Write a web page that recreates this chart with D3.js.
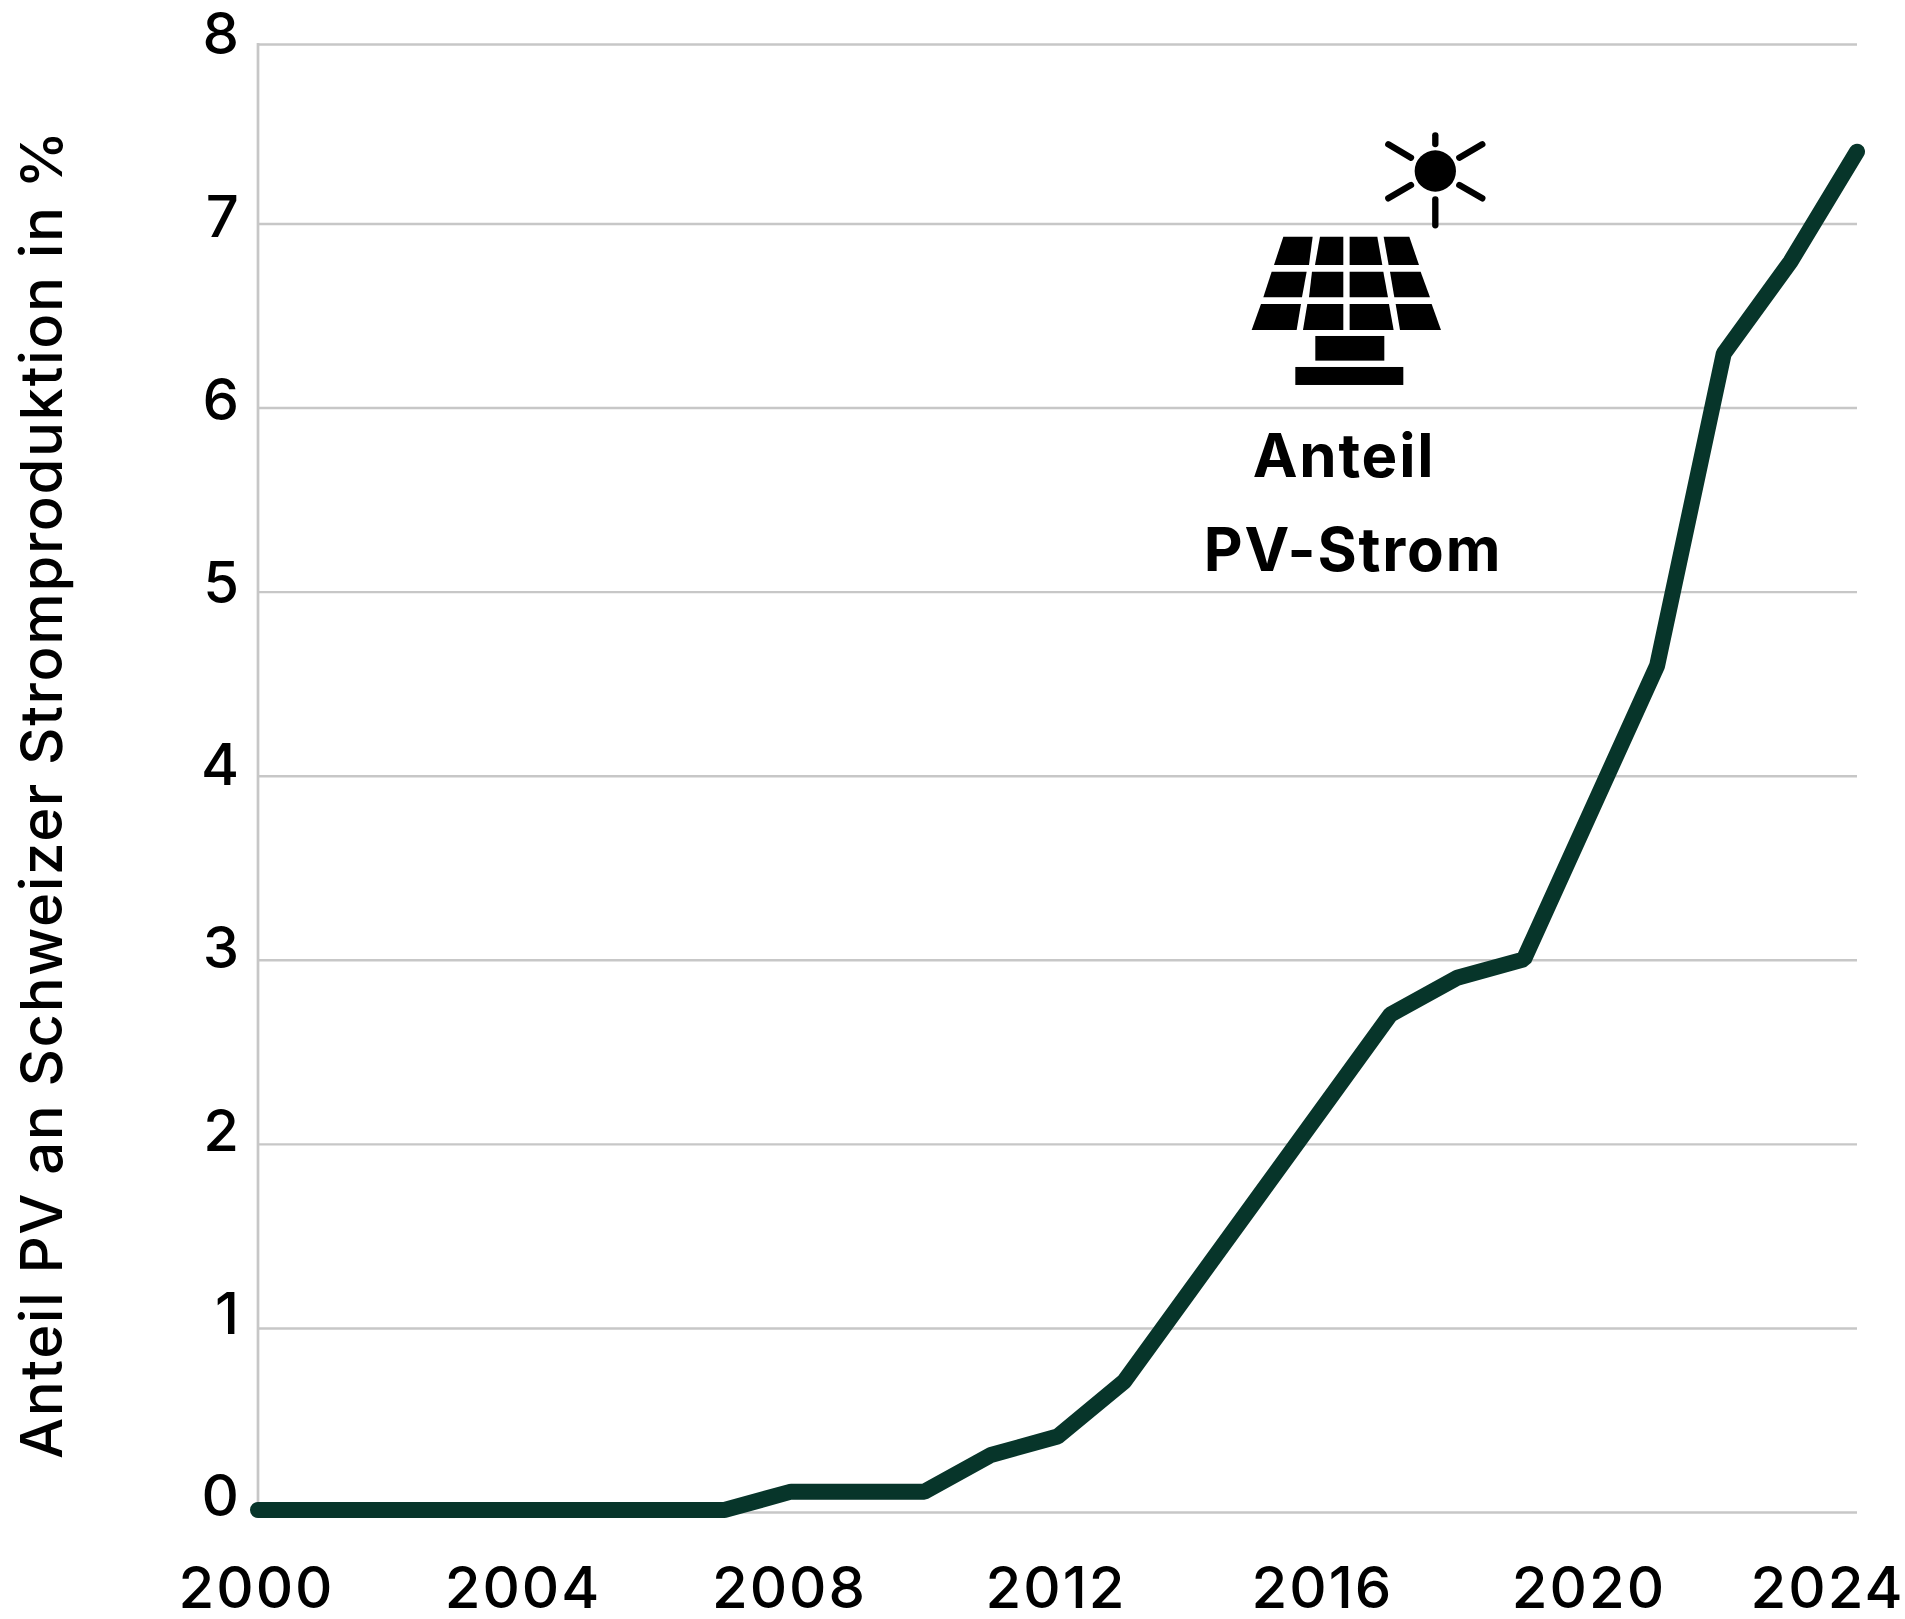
<!DOCTYPE html>
<html>
<head>
<meta charset="utf-8">
<script src="https://cdn.jsdelivr.net/npm/d3@7"></script>
<style>
  html, body { margin: 0; background: #fff; }
  svg { display: block; }
  text { font-family: Inter, "Noto Sans", sans-serif; fill: #000; }
</style>
</head>
<body>
<svg id="chart" width="1905" height="1619"></svg>
<script>
const years = d3.range(2000, 2025);
const shares = [0, 0, 0, 0, 0, 0, 0, 0, 0.1, 0.1, 0.1, 0.3, 0.4, 0.7, 1.2, 1.7, 2.2, 2.7, 2.9, 3.0, 3.8, 4.6, 6.3, 6.8, 7.4];
const yearTicks = [2000, 2004, 2008, 2012, 2016, 2020, 2024];
const shareTicks = [0, 1, 2, 3, 4, 5, 6, 7, 8];
const yLabel = "Anteil PV an Schweizer Stromproduktion in %";
const noteLines = ["Anteil", "PV-Strom"];

// icon shapes, in units of the 3x crop
const panelCells = [
  [[250,380],[338,380],[327,465],[222,465]], [[360,380],[430,380],[430,465],[345,465]],
  [[449,380],[532,380],[547,465],[449,465]], [[551,380],[628,380],[657,465],[566,465]],
  [[215,485],[320,485],[306,562],[190,562]], [[336,485],[430,485],[430,562],[327,562]],
  [[449,485],[550,485],[564,562],[449,562]], [[570,485],[662,485],[690,562],[583,562]],
  [[183,582],[303,582],[290,660],[155,660]], [[322,582],[430,582],[430,660],[309,660]],
  [[449,582],[567,582],[581,660],[449,660]], [[587,582],[695,582],[723,660],[600,660]]
];
const standBars = [[346,678,207,74], [286,771,324,54]];
const sunRays = [
  [706,76,706,102], [706,268,706,346],
  [565,103,633,143], [847,103,778,143],
  [565,265,633,225], [847,265,778,225]
];

const svg = d3.select("#chart");

const x = d3.scaleLinear().domain([2000, 2024]).range([258, 1857]);
// the source's gridlines, tick labels and line don't share one exact scale
const y = d3.scaleLinear().domain([0, 7, 8]).range([1512, 223.5, 44]);
const labelY = d3.scaleLinear().domain([0, 8]).range([1495, 33]);
const lineY = d3.scaleLinear().domain([0, 7.4]).range([1510, 151.7]);

svg.append("g")
    .attr("transform", "translate(258,0)")
    .call(d3.axisLeft(y).tickValues(shareTicks).tickFormat(d3.format("d")).tickSize(-(1857 - 258)).tickPadding(19))
    .call(g => g.select(".domain").remove())
    .call(g => g.selectAll("line").attr("stroke", "#c7c7c7").attr("stroke-width", 2.4))
    .call(g => g.selectAll("text")
        .attr("font-size", 58)
        .attr("font-weight", 500)
        .attr("y", d => labelY(d) - y(d))
        .attr("dy", "0.36em"));

svg.append("line")
    .attr("x1", x(2000)).attr("x2", x(2000))
    .attr("y1", y(8) - 1).attr("y2", y(0))
    .attr("stroke", "#c7c7c7").attr("stroke-width", 2.7);

const xAxis = svg.append("g")
    .attr("transform", "translate(0,1512)")
    .call(d3.axisBottom(x).tickValues(yearTicks).tickFormat(d3.format("d")).tickSize(0).tickPadding(0))
    .call(g => g.select(".domain").remove());
xAxis.selectAll("text")
    .attr("font-size", 58)
    .attr("font-weight", 500)
    .attr("letter-spacing", 2)
    .attr("y", 96)
    .attr("dy", 0)
    .attr("dx", d => d === 2024 ? -30 : -2);

const line = d3.line().x((d, i) => x(years[i])).y(d => lineY(d));
svg.append("path")
    .datum(shares)
    .attr("d", line)
    .attr("fill", "none")
    .attr("stroke", "#07352a")
    .attr("stroke-width", 16)
    .attr("stroke-linecap", "round")
    .attr("stroke-linejoin", "bevel");

svg.append("text")
    .attr("transform", "translate(62,1459) rotate(-90)")
    .attr("font-size", 58)
    .attr("font-weight", 500)
    .attr("letter-spacing", 1.65)
    .text(yLabel);

const icon = svg.append("g").attr("transform", "translate(1200,110) scale(0.3333)");
icon.selectAll("polygon").data(panelCells).join("polygon")
    .attr("points", d => d.join(" "))
    .attr("fill", "#000");
icon.selectAll("rect").data(standBars).join("rect")
    .attr("x", d => d[0]).attr("y", d => d[1])
    .attr("width", d => d[2]).attr("height", d => d[3])
    .attr("fill", "#000");
icon.append("circle").attr("cx", 706).attr("cy", 183).attr("r", 62).attr("fill", "#000");
icon.selectAll("line").data(sunRays).join("line")
    .attr("x1", d => d[0]).attr("y1", d => d[1])
    .attr("x2", d => d[2]).attr("y2", d => d[3])
    .attr("stroke", "#000").attr("stroke-width", 19).attr("stroke-linecap", "round");

svg.selectAll("text.note").data(noteLines).join("text")
    .attr("class", "note")
    .attr("x", (d, i) => i === 0 ? 1344 : 1353)
    .attr("y", (d, i) => i === 0 ? 477 : 571)
    .attr("text-anchor", "middle")
    .attr("font-size", 60)
    .attr("font-weight", 700)
    .attr("letter-spacing", 1.8)
    .text(d => d);
</script>
</body>
</html>
